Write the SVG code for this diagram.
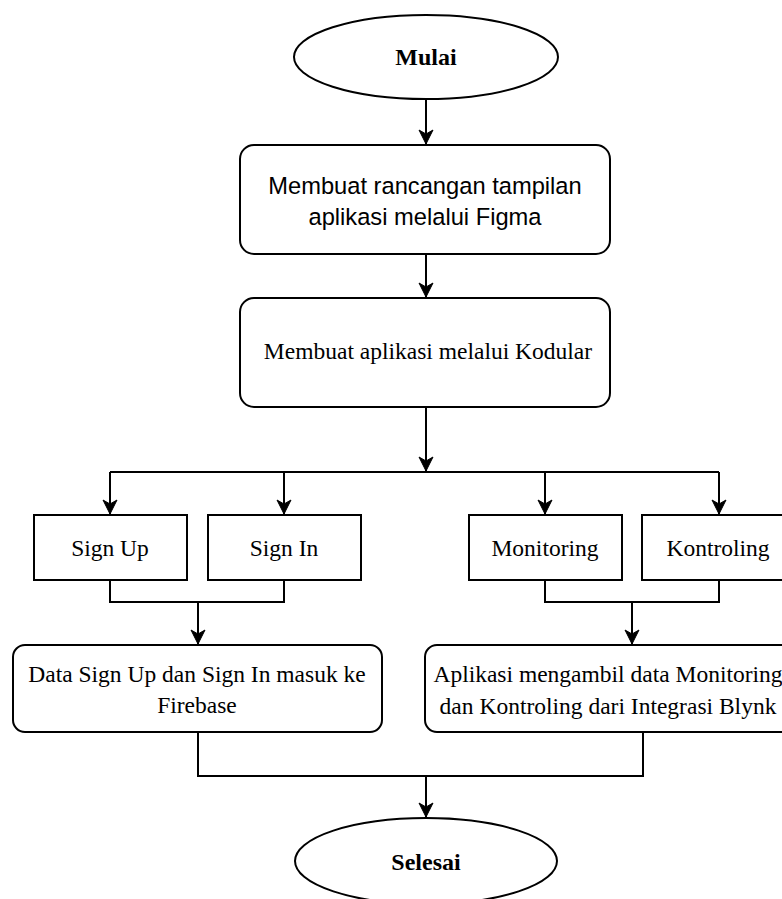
<svg xmlns="http://www.w3.org/2000/svg" width="782" height="899" viewBox="0 0 782 899">
<style>
.shape{fill:#fff;stroke:#000;stroke-width:2}
.conn{fill:none;stroke:#000;stroke-width:2}
.serif{font-family:"Liberation Serif","Times New Roman",serif;font-size:23.5px;fill:#000;text-anchor:middle}
.bold{font-weight:bold;font-size:24px}
.sans{font-family:"Liberation Sans",Arial,sans-serif;font-size:23.7px;fill:#000;text-anchor:middle}
</style>
<defs>
<marker id="arrow" markerUnits="userSpaceOnUse" markerWidth="16" markerHeight="16" viewBox="0 0 16 16" refX="15" refY="8" orient="auto">
<path d="M1,1 L15,8 L1,15 L5,8 Z" fill="#000" stroke="#000" stroke-width="1"/>
</marker>
</defs>
<rect width="782" height="899" fill="#fff"/>
<g id="connectors">
<path class="conn" d="M426,100 V144" marker-end="url(#arrow)"/>
<path class="conn" d="M426,254 V297" marker-end="url(#arrow)"/>
<path class="conn" d="M426,407 V471" marker-end="url(#arrow)"/>
<path class="conn" d="M110,472 H719"/>
<path class="conn" d="M110,472 V514" marker-end="url(#arrow)"/>
<path class="conn" d="M284,472 V514" marker-end="url(#arrow)"/>
<path class="conn" d="M545,472 V514" marker-end="url(#arrow)"/>
<path class="conn" d="M719,472 V514" marker-end="url(#arrow)"/>
<path class="conn" d="M110,580 V602 H284 V580"/>
<path class="conn" d="M198,602 V644" marker-end="url(#arrow)"/>
<path class="conn" d="M545,580 V602 H719 V580"/>
<path class="conn" d="M632,602 V644" marker-end="url(#arrow)"/>
<path class="conn" d="M198,732 V776 H643 V732"/>
<path class="conn" d="M426,776 V817" marker-end="url(#arrow)"/>
</g>
<g id="mulai">
<ellipse class="shape" cx="426" cy="57" rx="132" ry="42"/>
<text class="serif bold" x="426" y="65">Mulai</text>
</g>
<g id="figma">
<rect class="shape" x="240" y="145" width="370" height="109" rx="14"/>
<text class="sans" x="425" y="194">Membuat rancangan tampilan</text>
<text class="sans" x="425" y="225">aplikasi melalui Figma</text>
</g>
<g id="kodular">
<rect class="shape" x="240" y="298" width="370" height="109" rx="14"/>
<text class="serif" x="428" y="359">Membuat aplikasi melalui Kodular</text>
</g>
<g id="signup">
<rect class="shape" x="34" y="515" width="153" height="65"/>
<text class="serif" x="110" y="556">Sign Up</text>
</g>
<g id="signin">
<rect class="shape" x="208" y="515" width="153" height="65"/>
<text class="serif" x="284" y="556">Sign In</text>
</g>
<g id="monitoring">
<rect class="shape" x="469" y="515" width="153" height="65"/>
<text class="serif" x="545" y="556">Monitoring</text>
</g>
<g id="kontroling">
<rect class="shape" x="642" y="515" width="153" height="65"/>
<text class="serif" x="718" y="556">Kontroling</text>
</g>
<g id="firebase">
<rect class="shape" x="13" y="645" width="369" height="87" rx="12"/>
<text class="serif" x="197" y="682">Data Sign Up dan Sign In masuk ke</text>
<text class="serif" x="197" y="713">Firebase</text>
</g>
<g id="blynk">
<rect class="shape" x="425" y="645" width="369" height="87" rx="12"/>
<text class="serif" x="608" y="682">Aplikasi mengambil data Monitoring</text>
<text class="serif" x="608" y="714">dan Kontroling dari Integrasi Blynk</text>
</g>
<g id="selesai">
<ellipse class="shape" cx="426" cy="861" rx="131" ry="43"/>
<text class="serif bold" x="426" y="870">Selesai</text>
</g>
</svg>
